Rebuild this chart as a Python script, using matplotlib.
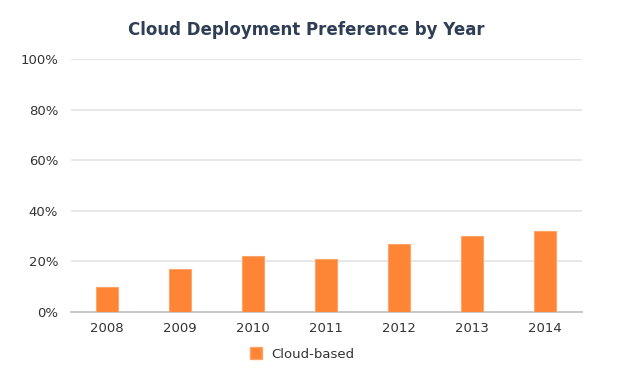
import matplotlib
matplotlib.use("Agg")
import matplotlib.pyplot as plt
from matplotlib.patches import Patch

years = ["2008", "2009", "2010", "2011", "2012", "2013", "2014"]
cloud_based = [10, 17, 22, 21, 27, 30, 32]
yticks = [0, 20, 40, 60, 80, 100]
ytick_labels = ["0%", "20%", "40%", "60%", "80%", "100%"]

plt.rcParams['font.family'] = ['DejaVu Sans']

fig = plt.figure(figsize=(6.24, 3.71), dpi=100)
ax = fig.add_axes([70.5/624, 59/371, 511/624, 253/371])

x = range(len(years))
ax.bar(x, cloud_based, width=0.31, color="#fd8535", edgecolor="#ffa468", linewidth=0.8, zorder=3)

ax.set_xlim(-0.5, len(years) - 0.5)
ax.set_ylim(0, 100)
ax.set_yticks(yticks)
ax.set_yticklabels(ytick_labels)
ax.set_xticks(list(x))
ax.set_xticklabels(years)
ax.tick_params(axis='both', length=0, labelsize=9.5, labelcolor="#333333")
ax.tick_params(axis='y', pad=9)
ax.tick_params(axis='x', pad=7)
ax.grid(axis='y', color="#e3e3e3", linewidth=1.2, zorder=0)
for s in ['top', 'right', 'left']:
    ax.spines[s].set_visible(False)
ax.spines['bottom'].set_color("#c8c8c8")
ax.spines['bottom'].set_linewidth(1.4)

fig.text(306/624, 1 - 30/371, "Cloud Deployment Preference by Year", ha="center", va="center",
         fontsize=12, fontweight="bold", color="#2f3e55")

handles = [Patch(facecolor="#fd8535", edgecolor="#ffa468", label="Cloud-based")]
fig.legend(handles=handles, loc="center", bbox_to_anchor=(302/624, 1 - 354/371), frameon=False,
           fontsize=9.5, handlelength=0.95, handleheight=0.95, handletextpad=0.64, labelcolor="#333333")

fig.savefig("out.png", dpi=100)
